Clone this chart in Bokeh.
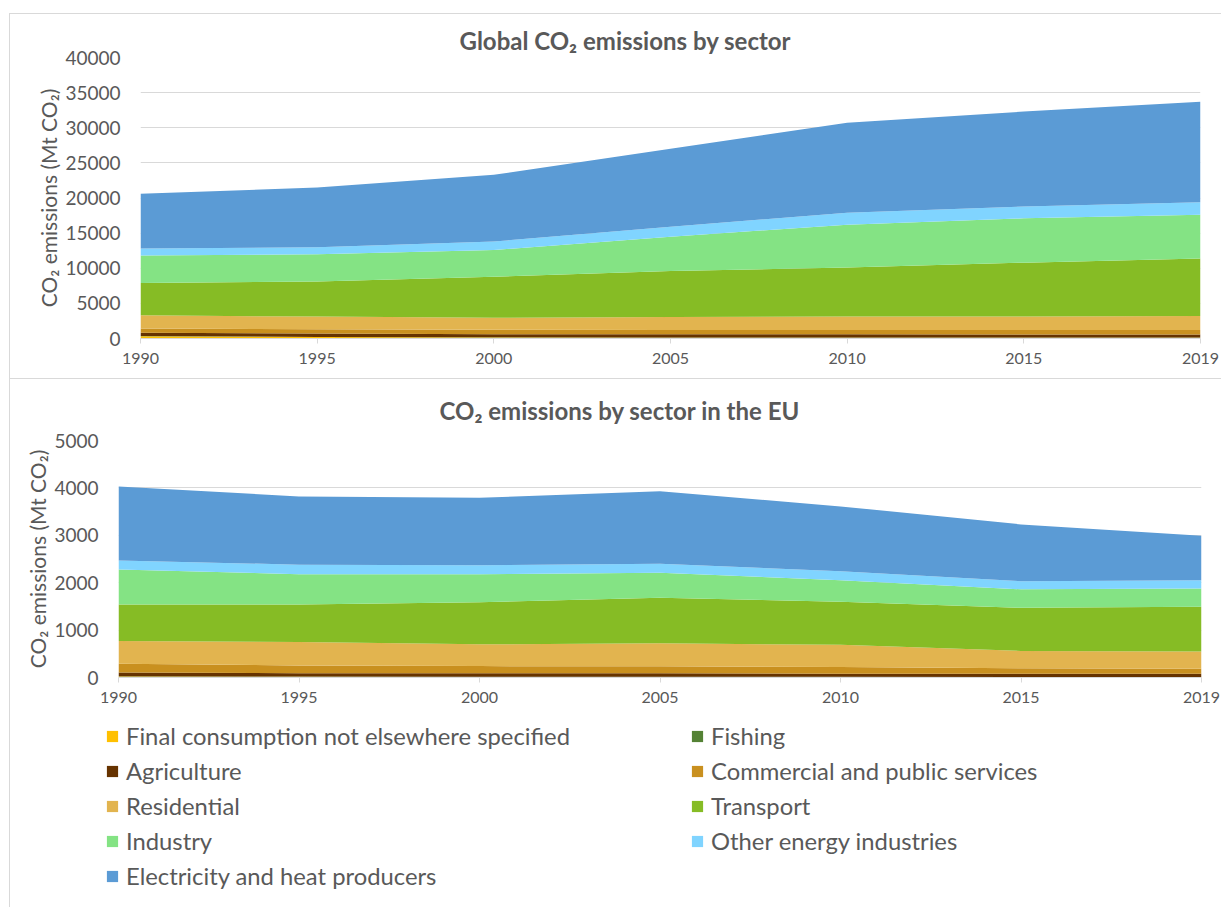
from bokeh.plotting import figure
from bokeh.layouts import column
from bokeh.models import (ColumnDataSource, Range1d, FixedTicker, SingleIntervalTicker,
                          Legend, LegendItem)
from bokeh.embed import file_html
from bokeh.resources import INLINE

years = ["1990", "1995", "2000", "2005", "2010", "2015", "2019"]

sector_keys = ["final_nes", "fishing", "agriculture", "commercial", "residential",
               "transport", "industry", "other_energy", "electricity"]
sector_labels = ["Final consumption not elsewhere specified", "Fishing", "Agriculture",
                 "Commercial and public services", "Residential", "Transport", "Industry",
                 "Other energy industries", "Electricity and heat producers"]
sector_colors = ["#FFC000", "#548235", "#663300", "#C9901F", "#E2B44F",
                 "#86BC25", "#84E384", "#80D4FF", "#5B9BD5"]

# Global emissions by sector, Mt CO2
world_final_nes = [320, 200, 150, 120, 110, 100, 100]
world_fishing = [30, 30, 30, 30, 30, 30, 30]
world_agriculture = [460, 470, 440, 450, 460, 450, 450]
world_commercial = [610, 600, 610, 610, 610, 620, 630]
world_residential = [1880, 1820, 1720, 1840, 1910, 1930, 1990]
world_transport = [4600, 4980, 5850, 6550, 6980, 7670, 8200]
world_industry = [3900, 3900, 3800, 4900, 6100, 6300, 6200]
world_other_energy = [1000, 1000, 1200, 1400, 1700, 1700, 1800]
world_electricity = [7800, 8500, 9500, 11100, 12800, 13500, 14300]

# EU emissions by sector, Mt CO2
eu_final_nes = [20, 15, 12, 12, 10, 8, 8]
eu_fishing = [8, 7, 6, 6, 5, 5, 5]
eu_agriculture = [80, 70, 70, 70, 65, 65, 65]
eu_commercial = [182, 163, 152, 147, 140, 117, 107]
eu_residential = [480, 495, 460, 485, 470, 365, 365]
eu_transport = [770, 790, 890, 960, 910, 910, 940]
eu_industry = [740, 640, 590, 530, 450, 390, 390]
eu_other_energy = [190, 200, 190, 190, 190, 170, 170]
eu_electricity = [1560, 1440, 1420, 1530, 1370, 1200, 940]

world_series = [world_final_nes, world_fishing, world_agriculture, world_commercial,
                world_residential, world_transport, world_industry, world_other_energy,
                world_electricity]
eu_series = [eu_final_nes, eu_fishing, eu_agriculture, eu_commercial, eu_residential,
             eu_transport, eu_industry, eu_other_energy, eu_electricity]

# legend reads row by row: two columns, stacking order
legend_order = [0, 2, 4, 6, 8, 1, 3, 5, 7]

FONT = "Lato"
TEXT = "#595959"
GRID = "#D9D9D9"
PANEL_W = 1211


def area_panel(title, series, y_max, y_step, height, left, right, top, bottom,
               title_offset, title_standoff, title_valign):
    data = {"x": list(range(len(years)))}
    for key, vals in zip(sector_keys, series):
        data[key] = vals
    source = ColumnDataSource(data)

    p = figure(width=PANEL_W, height=height, output_backend="svg", toolbar_location=None,
               x_range=Range1d(0, len(years) - 1), y_range=Range1d(0, y_max),
               min_border_left=left, min_border_right=right,
               min_border_top=top, min_border_bottom=bottom, title=title)
    p.frame_align = False
    p.varea_stack(stackers=sector_keys, x="x", color=sector_colors, source=source)

    p.title.align = "left"
    p.title.offset = title_offset
    p.title.standoff = title_standoff
    p.title.vertical_align = title_valign
    p.title.text_font = FONT
    p.title.text_font_size = "24px"
    p.title.text_font_style = "bold"
    p.title.text_color = TEXT

    p.outline_line_color = None
    p.background_fill_color = "white"
    p.border_fill_color = "white"
    p.xgrid.grid_line_color = None
    p.ygrid.grid_line_color = GRID
    p.ygrid.grid_line_width = 1

    p.xaxis.ticker = FixedTicker(ticks=list(range(len(years))))
    p.xaxis.major_label_overrides = {i: y for i, y in enumerate(years)}
    p.xaxis.axis_line_color = GRID
    p.xaxis.major_tick_line_color = GRID
    p.xaxis.major_tick_out = 5
    p.xaxis.major_tick_in = 0
    p.xaxis.minor_tick_line_color = None
    p.xaxis.major_label_standoff = 9
    p.xaxis.major_label_text_font = FONT
    p.xaxis.major_label_text_font_size = "16px"
    p.xaxis.major_label_text_color = TEXT

    p.yaxis.ticker = SingleIntervalTicker(interval=y_step)
    p.yaxis.axis_line_color = None
    p.yaxis.major_tick_line_color = None
    p.yaxis.minor_tick_line_color = None
    p.yaxis.major_label_standoff = 14
    p.yaxis.major_label_text_font = FONT
    p.yaxis.major_label_text_font_size = "19px"
    p.yaxis.major_label_text_color = TEXT
    p.yaxis.axis_label = "CO\u2082 emissions (Mt CO\u2082)"
    p.yaxis.axis_label_text_font = FONT
    p.yaxis.axis_label_text_font_size = "21px"
    p.yaxis.axis_label_text_font_style = "normal"
    p.yaxis.axis_label_text_color = TEXT
    p.yaxis.axis_label_standoff = 1
    return p


p_world = area_panel("Global CO\u2082 emissions by sector", world_series, 40000, 5000,
                     364, 130, 21, 43, 40, 319, 5, "bottom")
p_eu = area_panel("CO\u2082 emissions by sector in the EU", eu_series, 5000, 1000,
                  335, 108, 20, 61, 37, 321, 27, "top")
p_eu.styles = {"border-top": "1px solid #D9D9D9"}

# Shared legend drawn in its own strip below the two panels
p_leg = figure(width=PANEL_W, height=194, output_backend="svg", toolbar_location=None,
               x_range=Range1d(0, 1), y_range=Range1d(0, 1), min_border=0,
               x_axis_type=None, y_axis_type=None)
p_leg.frame_align = False
p_leg.grid.visible = False
p_leg.outline_line_color = None
swatches = []
for color in sector_colors:
    # zero-height area: only serves as the legend swatch
    swatches.append(p_leg.varea(x=[0, 0], y1=[0, 0], y2=[0, 0], fill_color=color))
items = [LegendItem(label=sector_labels[i], renderers=[swatches[i]]) for i in legend_order]
legend = Legend(items=items, ncols=2, location=(95, 17),
                glyph_width=14, glyph_height=14, label_standoff=7,
                label_width=557, label_height=26, spacing=7,
                padding=0, margin=0, border_line_color=None,
                background_fill_alpha=0,
                label_text_font=FONT, label_text_font_size="23.8px",
                label_text_color=TEXT)
p_leg.add_layout(legend, "center")

layout = column(p_world, p_eu, p_leg, spacing=0, margin=(13, 0, 0, 9),
                styles={"border-top": "1px solid #D9D9D9",
                        "border-left": "1px solid #D9D9D9"})
open("out.html", "w").write(file_html(layout, INLINE))
